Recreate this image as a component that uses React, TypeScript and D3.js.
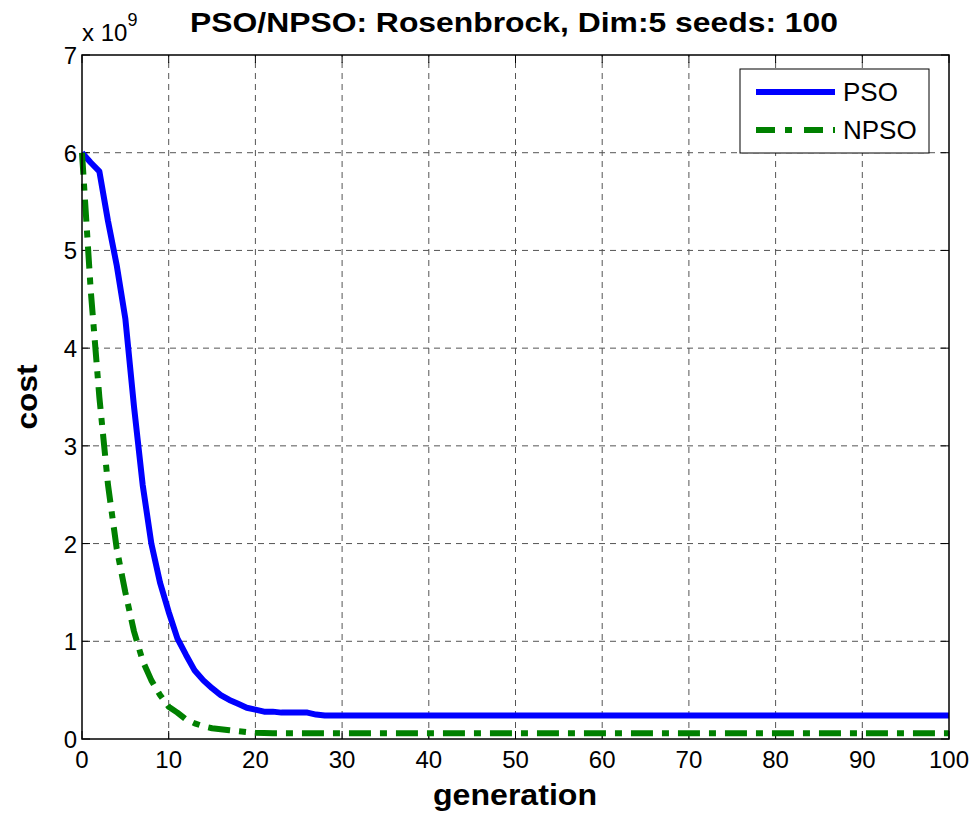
import * as d3 from 'd3'

// generations 0..100
const generations = d3.range(0, 101)

// cost values (x 1e9)
const psoHead = [
  6.0, 5.9, 5.81, 5.3, 4.85, 4.3, 3.4, 2.6, 2.0, 1.6,
  1.3, 1.03, 0.86, 0.7, 0.6, 0.52, 0.45, 0.4, 0.36, 0.32,
  0.3, 0.28, 0.28, 0.27, 0.27, 0.27, 0.27, 0.25, 0.24,
]
const psoTail = 0.24

const npsoHead = [
  6.0, 4.6, 3.5, 2.6, 1.95, 1.5, 1.1, 0.8, 0.6, 0.45,
  0.33, 0.27, 0.2, 0.16, 0.13, 0.11, 0.1, 0.09, 0.08, 0.07,
  0.065, 0.062, 0.06, 0.06,
]
const npsoTail = 0.06

const xTicks = [0, 10, 20, 30, 40, 50, 60, 70, 80, 90, 100]
const yTicks = [0, 1, 2, 3, 4, 5, 6, 7]

const pso = generations.map((g) => (g < psoHead.length ? psoHead[g] : psoTail))
const npso = generations.map((g) => (g < npsoHead.length ? npsoHead[g] : npsoTail))

const series = [
  { name: 'PSO', values: pso, color: '#0000ff', dash: null },
  { name: 'NPSO', values: npso, color: '#008000', dash: '22 9 7 9' },
]

const W = 977
const H = 817
const margin = { left: 82, right: 28, top: 55, bottom: 78 }
const font = '"Liberation Sans", Arial, sans-serif'

export default function App() {
  const x = d3.scaleLinear().domain([0, 100]).range([margin.left, W - margin.right])
  const y = d3.scaleLinear().domain([0, 7]).range([H - margin.bottom, margin.top])

  const line = d3
    .line<number>()
    .x((_, i) => x(generations[i]))
    .y((d) => y(d))

  const x0 = x(0)
  const x1 = x(100)
  const y0 = y(0)
  const y1 = y(7)
  const tickLen = 8

  return (
    <svg
      width={W}
      height={H}
      style={{ position: 'absolute', left: 0, top: 0, background: '#fff' }}
    >
      <rect x={0} y={0} width={W} height={H} fill="#fff" />

      {/* grid */}
      <g stroke="#555" strokeWidth={1} strokeDasharray="6 5">
        {xTicks.slice(1, -1).map((t) => (
          <line key={'gx' + t} x1={x(t)} x2={x(t)} y1={y0} y2={y1} />
        ))}
        {yTicks.slice(1, -1).map((t) => (
          <line key={'gy' + t} x1={x0} x2={x1} y1={y(t)} y2={y(t)} />
        ))}
      </g>

      {/* tick marks on all four sides */}
      <g stroke="#000" strokeWidth={1}>
        {xTicks.map((t) => (
          <g key={'tx' + t}>
            <line x1={x(t)} x2={x(t)} y1={y0} y2={y0 - tickLen} />
            <line x1={x(t)} x2={x(t)} y1={y1} y2={y1 + tickLen} />
          </g>
        ))}
        {yTicks.map((t) => (
          <g key={'ty' + t}>
            <line x1={x0} x2={x0 + tickLen} y1={y(t)} y2={y(t)} />
            <line x1={x1} x2={x1 - tickLen} y1={y(t)} y2={y(t)} />
          </g>
        ))}
      </g>

      {/* series */}
      {series.map((s) => (
        <path
          key={s.name}
          d={line(s.values) || ''}
          fill="none"
          stroke={s.color}
          strokeWidth={6}
          strokeLinejoin="round"
          strokeDasharray={s.dash || undefined}
        />
      ))}

      {/* frame */}
      <rect x={x0} y={y1} width={x1 - x0} height={y0 - y1} fill="none" stroke="#000" strokeWidth={1.5} />

      {/* tick labels */}
      <g fontFamily={font} fontSize={24} fill="#000">
        {xTicks.map((t) => (
          <text key={'lx' + t} x={x(t)} y={y0 + 29} textAnchor="middle">
            {t}
          </text>
        ))}
        {yTicks.map((t) => (
          <text key={'ly' + t} x={x0 - 5} y={y(t) + 9} textAnchor="end">
            {t}
          </text>
        ))}
        <text x={x0} y={41}>
          x 10
          <tspan fontSize={18} dy={-15}>9</tspan>
        </text>
      </g>

      {/* title and axis labels */}
      <text
        x={514}
        y={32}
        textAnchor="middle"
        fontFamily={font}
        fontWeight="bold"
        fontSize={28}
        textLength={648}
        lengthAdjust="spacingAndGlyphs"
      >
        PSO/NPSO: Rosenbrock, Dim:5 seeds: 100
      </text>
      <text
        x={515}
        y={805}
        textAnchor="middle"
        fontFamily={font}
        fontWeight="bold"
        fontSize={30}
        textLength={164}
        lengthAdjust="spacingAndGlyphs"
      >
        generation
      </text>
      <text
        transform={`translate(37,397) rotate(-90)`}
        textAnchor="middle"
        fontFamily={font}
        fontWeight="bold"
        fontSize={30}
        textLength={65}
        lengthAdjust="spacingAndGlyphs"
      >
        cost
      </text>

      {/* legend */}
      <g>
        <rect x={740} y={69} width={189} height={84} fill="#fff" stroke="#000" strokeWidth={1} />
        {series.map((s, i) => (
          <g key={'lg' + s.name} transform={`translate(0,${92 + i * 38})`}>
            <line
              x1={756}
              x2={835}
              y1={0}
              y2={0}
              stroke={s.color}
              strokeWidth={6}
              strokeDasharray={s.dash ? '19 10 7 12' : undefined}
            />
            <text x={843} y={9} fontFamily={font} fontSize={26}>
              {s.name}
            </text>
          </g>
        ))}
      </g>
    </svg>
  )
}
